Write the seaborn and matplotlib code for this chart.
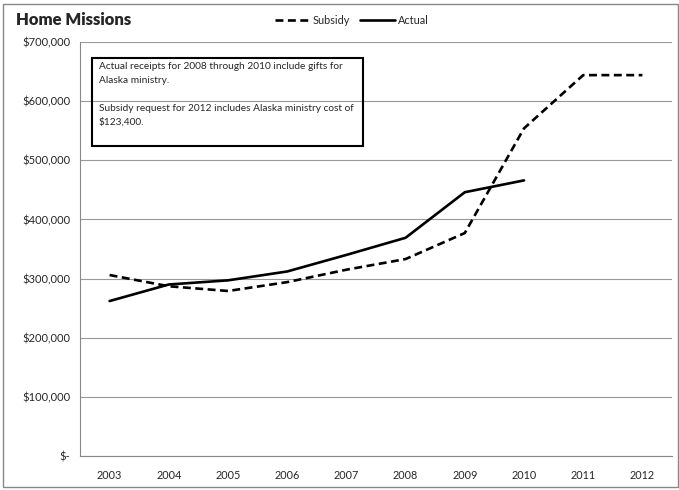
# Home Missions: subsidy vs actual receipts, 2003-2012
import matplotlib
matplotlib.use("Agg")
import matplotlib.pyplot as plt
from matplotlib.patches import Rectangle
from matplotlib.ticker import FuncFormatter, MultipleLocator
import pandas as pd
import seaborn as sns

# Data
years = [2003, 2004, 2005, 2006, 2007, 2008, 2009, 2010, 2011, 2012]
subsidy = [306000, 287000, 279000, 294000, 315000, 333000, 377000, 554000, 644000, 644000]
actual_years = [2003, 2004, 2005, 2006, 2007, 2008, 2009, 2010]
actual = [262000, 290000, 297000, 312000, 340000, 369000, 446000, 466000]

note_lines = [
    "Actual receipts for 2008 through 2010 include gifts for",
    "Alaska ministry.",
    "",
    "Subsidy request for 2012 includes Alaska ministry cost of",
    "$123,400.",
]

sns.set_style("white")
plt.rcParams['font.family'] = ['Lato', 'DejaVu Sans']

W, H = 679, 490
fig = plt.figure(figsize=(W / 100, H / 100), dpi=100)
ax = fig.add_axes([80 / W, 1 - 456 / H, 592 / W, 414 / H])

sub_df = pd.DataFrame({"year": years, "value": subsidy})
act_df = pd.DataFrame({"year": actual_years, "value": actual})

sns.lineplot(data=sub_df, x="year", y="value", ax=ax, color="black",
             linewidth=1.9, linestyle=(0, (3, 1.7)), label="Subsidy")
sns.lineplot(data=act_df, x="year", y="value", ax=ax, color="black",
             linewidth=1.9, label="Actual")

# axes, grid and ticks
ax.set_xlim(2002.5, 2012.5)
ax.set_ylim(0, 700000)
ax.yaxis.set_major_locator(MultipleLocator(100000))
ax.yaxis.set_major_formatter(FuncFormatter(lambda v, p: "$-" if v == 0 else f"${v:,.0f}"))
ax.set_xticks(years)
ax.set_xticklabels([str(y) for y in years])
ax.set_xticks([y + 0.5 for y in [2002] + years], minor=True)
ax.tick_params(axis="x", which="major", length=0, pad=10, labelsize=7.8)
ax.tick_params(axis="x", which="minor", length=4, color="#888888", width=0.8)
ax.tick_params(axis="y", length=3, color="#888888", width=0.8, pad=4, labelsize=8)
ax.grid(axis="y", color="#999999", linewidth=0.8)
ax.set_axisbelow(True)
for side in ["top", "right"]:
    ax.spines[side].set_visible(False)
for side in ["left", "bottom"]:
    ax.spines[side].set_color("#888888")
    ax.spines[side].set_linewidth(0.8)
ax.set_xlabel("")
ax.set_ylabel("")

# legend at top centre
ax.get_legend().remove()
handles, labels = ax.get_legend_handles_labels()
fig.legend(handles, labels, loc="center", bbox_to_anchor=(352 / W, 1 - 20 / H),
           ncol=2, frameon=False, fontsize=7.8, handlelength=3.2,
           handletextpad=0.3, columnspacing=0.9)

# title
fig.text(16 / W, 1 - 20 / H, "Home Missions", fontsize=12, fontweight="heavy",
         va="center", ha="left")

# note box
fig.patches.append(Rectangle((92 / W, 1 - 146 / H), 271 / W, 88 / H,
                             transform=fig.transFigure, fill=False,
                             edgecolor="black", linewidth=1.5, zorder=5))
fig.text(99 / W, 1 - 62 / H, "\n".join(note_lines), fontsize=7.3, va="top",
         ha="left", linespacing=1.7, zorder=6)

# chart area border
fig.patches.append(Rectangle((3 / W, 3 / H), (W - 4) / W, (H - 7) / H,
                             transform=fig.transFigure, fill=False,
                             edgecolor="#888888", linewidth=1))

fig.savefig("out.png", dpi=100, facecolor="white")
